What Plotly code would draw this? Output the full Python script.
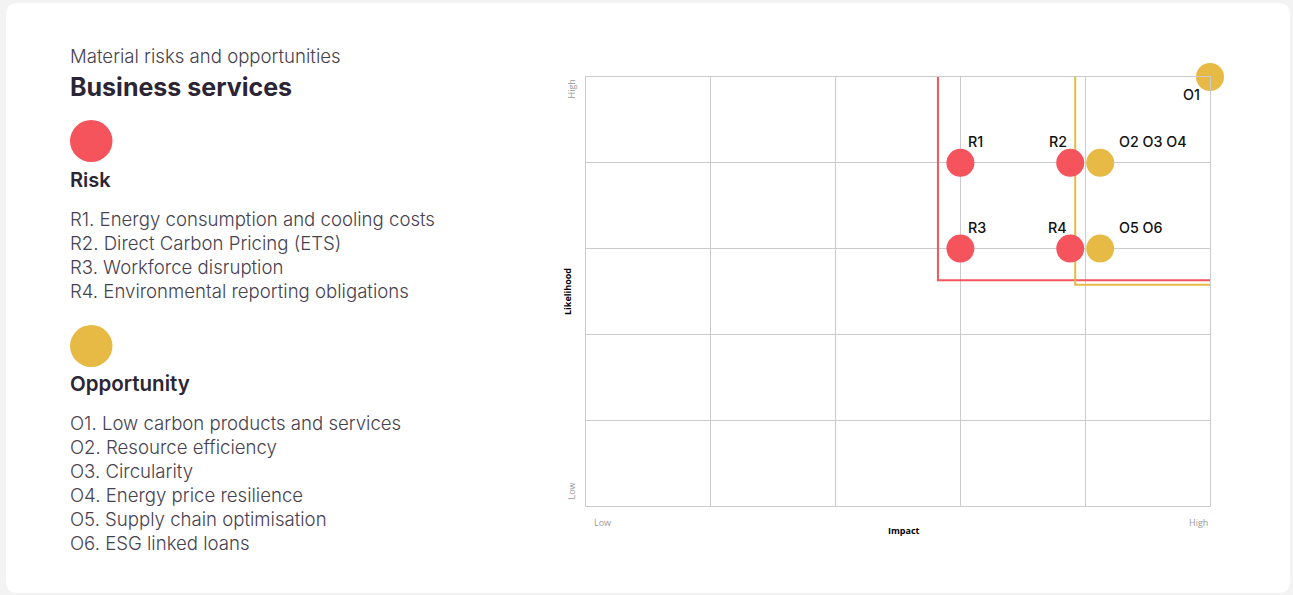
import plotly.graph_objects as go

# ---------------- data ----------------
risk_labels = ["R1", "R2", "R3", "R4"]
risk_impact = [3.0, 3.88, 3.0, 3.88]
risk_likelihood = [4.0, 4.0, 3.0, 3.0]

opp_labels = ["O1", "O2 O3 O4", "O5 O6"]
opp_impact = [5.0, 4.12, 4.12]
opp_likelihood = [5.0, 4.0, 3.0]

risk_threshold_x = [2.82, 2.82, 5.0]
risk_threshold_y = [5.0, 2.63, 2.63]
opp_threshold_x = [3.92, 3.92, 5.0]
opp_threshold_y = [5.0, 2.58, 2.58]

risk_items = [
    "R1. Energy consumption and cooling costs",
    "R2. Direct Carbon Pricing (ETS)",
    "R3. Workforce disruption",
    "R4. Environmental reporting obligations",
]
opp_items = [
    "O1. Low carbon products and services",
    "O2. Resource efficiency",
    "O3. Circularity",
    "O4. Energy price resilience",
    "O5. Supply chain optimisation",
    "O6. ESG linked loans",
]

# ---------------- style ----------------
RED = "#F5545C"
YELLOW = "#E6BA44"
FONT = "Inter"
SMALL_FONT = "Open Sans"
W, H = 1293, 595
L, R, T, B = 586, 83, 77, 89
PW, PH = W - L - R, H - T - B


def px(x):
    return (x - L) / PW


def py(y):
    return (H - B - y) / PH


fig = go.Figure()

fig.add_trace(go.Scatter(x=risk_threshold_x, y=risk_threshold_y, mode="lines",
                         line=dict(color=RED, width=2), hoverinfo="skip"))
fig.add_trace(go.Scatter(x=opp_threshold_x, y=opp_threshold_y, mode="lines",
                         line=dict(color=YELLOW, width=2), hoverinfo="skip"))
fig.add_trace(go.Scatter(x=risk_impact, y=risk_likelihood, mode="markers",
                         marker=dict(color=RED, size=28, line=dict(width=0)),
                         cliponaxis=False, text=risk_labels))
fig.add_trace(go.Scatter(x=opp_impact, y=opp_likelihood, mode="markers",
                         marker=dict(color=YELLOW, size=28, line=dict(width=0)),
                         cliponaxis=False, text=opp_labels))

annotations = []
# point labels
label_font = dict(family=FONT, size=14.3, color="#111111", weight=500)
for lab, x, y in zip(risk_labels, risk_impact, risk_likelihood):
    left_side = x < 3.5
    annotations.append(dict(x=x, y=y, xref="x", yref="y", text=lab, showarrow=False,
                            borderpad=0,
                            xanchor="left" if left_side else "right", yanchor="middle",
                            xshift=7 if left_side else -2, yshift=21, font=label_font))
for lab, x, y in zip(opp_labels, opp_impact, opp_likelihood):
    if x >= 5:
        annotations.append(dict(x=x, y=y, xref="x", yref="y", text=lab, showarrow=False,
                                borderpad=0,
                                xanchor="right", yanchor="middle", xshift=-9, yshift=-17,
                                font=label_font))
    else:
        annotations.append(dict(x=x, y=y, xref="x", yref="y", text=lab, showarrow=False,
                                borderpad=0,
                                xanchor="left", yanchor="middle", xshift=18, yshift=21,
                                font=label_font))

# axis labels
tick_font = dict(family=SMALL_FONT, size=9, color="#9a9a9a")
annotations += [
    dict(x=px(592), y=py(522), xref="paper", yref="paper", text="Low", showarrow=False,
         xanchor="left", yanchor="middle", font=tick_font),
    dict(x=px(1210), y=py(522), xref="paper", yref="paper", text="High", showarrow=False,
         xanchor="right", yanchor="middle", font=tick_font),
    dict(x=px(571), y=py(78), xref="paper", yref="paper", text="High", showarrow=False,
         xanchor="center", yanchor="top", textangle=-90, font=tick_font),
    dict(x=px(571), y=py(502), xref="paper", yref="paper", text="Low", showarrow=False,
         xanchor="center", yanchor="bottom", textangle=-90, font=tick_font),
    dict(x=px(904), y=py(530), xref="paper", yref="paper", text="Impact", showarrow=False,
         xanchor="center", yanchor="middle",
         font=dict(family=SMALL_FONT, size=9, color="#000000", weight=700)),
    dict(x=px(567), y=py(292), xref="paper", yref="paper", text="Likelihood", showarrow=False,
         xanchor="center", yanchor="middle", textangle=-90,
         font=dict(family=SMALL_FONT, size=9, color="#000000", weight=700)),
]

# left-side text panel
DARK = "#2B2535"
BODY = "#46414F"
body_font = dict(family=FONT, size=18.6, color=BODY, weight=300)


def left_text(text, y, font):
    return dict(x=px(70), y=py(y), xref="paper", yref="paper", text=text,
                showarrow=False, xanchor="left", yanchor="middle", borderpad=0,
                xshift=-1, font=font)


annotations.append(left_text("Material risks and opportunities", 56,
                             dict(family=FONT, size=18.6, color=BODY, weight=300)))
annotations.append(left_text("Business services", 87,
                             dict(family=FONT, size=25, color=DARK, weight=700)))
annotations.append(left_text("Risk", 180, dict(family=FONT, size=20, color=DARK, weight=600)))
annotations.append(left_text("Opportunity", 383,
                             dict(family=FONT, size=20.5, color=DARK, weight=600)))
for i, t in enumerate(risk_items):
    annotations.append(left_text(t, 219 + 24 * i, body_font))
for i, t in enumerate(opp_items):
    annotations.append(left_text(t, 423 + 24 * i, body_font))

# card background (rounded rectangle) and legend circles
x0, x1, y0, y1, rr = 6, 1290, 3, 593, 12
card_path = (
    f"M {px(x0 + rr)},{py(y0)} H {px(x1 - rr)} Q {px(x1)},{py(y0)} {px(x1)},{py(y0 + rr)} "
    f"V {py(y1 - rr)} Q {px(x1)},{py(y1)} {px(x1 - rr)},{py(y1)} "
    f"H {px(x0 + rr)} Q {px(x0)},{py(y1)} {px(x0)},{py(y1 - rr)} "
    f"V {py(y0 + rr)} Q {px(x0)},{py(y0)} {px(x0 + rr)},{py(y0)} Z"
)
shapes = [
    dict(type="path", path=card_path, xref="paper", yref="paper",
         fillcolor="#FFFFFF", line=dict(width=0), layer="below"),
    dict(type="circle", xref="paper", yref="paper",
         x0=px(70), x1=px(112.5), y0=py(162), y1=py(120),
         fillcolor=RED, line=dict(width=0)),
    dict(type="circle", xref="paper", yref="paper",
         x0=px(70), x1=px(112.5), y0=py(367), y1=py(325),
         fillcolor=YELLOW, line=dict(width=0)),
]

axis_common = dict(range=[0, 5], dtick=1, tick0=0, showgrid=True, gridcolor="#CBCBCB",
                   gridwidth=1, showline=True, linecolor="#CBCBCB", linewidth=1,
                   mirror=True, zeroline=False, showticklabels=False, ticks="",
                   fixedrange=True)

fig.update_layout(
    width=W, height=H,
    margin=dict(l=L, r=R, t=T, b=B, pad=0),
    paper_bgcolor="#F3F3F3",
    plot_bgcolor="#F1F0F3",
    showlegend=False,
    xaxis=axis_common,
    yaxis=axis_common,
    annotations=annotations,
    shapes=shapes,
    font=dict(family=FONT),
)

fig.write_html("out.html")
